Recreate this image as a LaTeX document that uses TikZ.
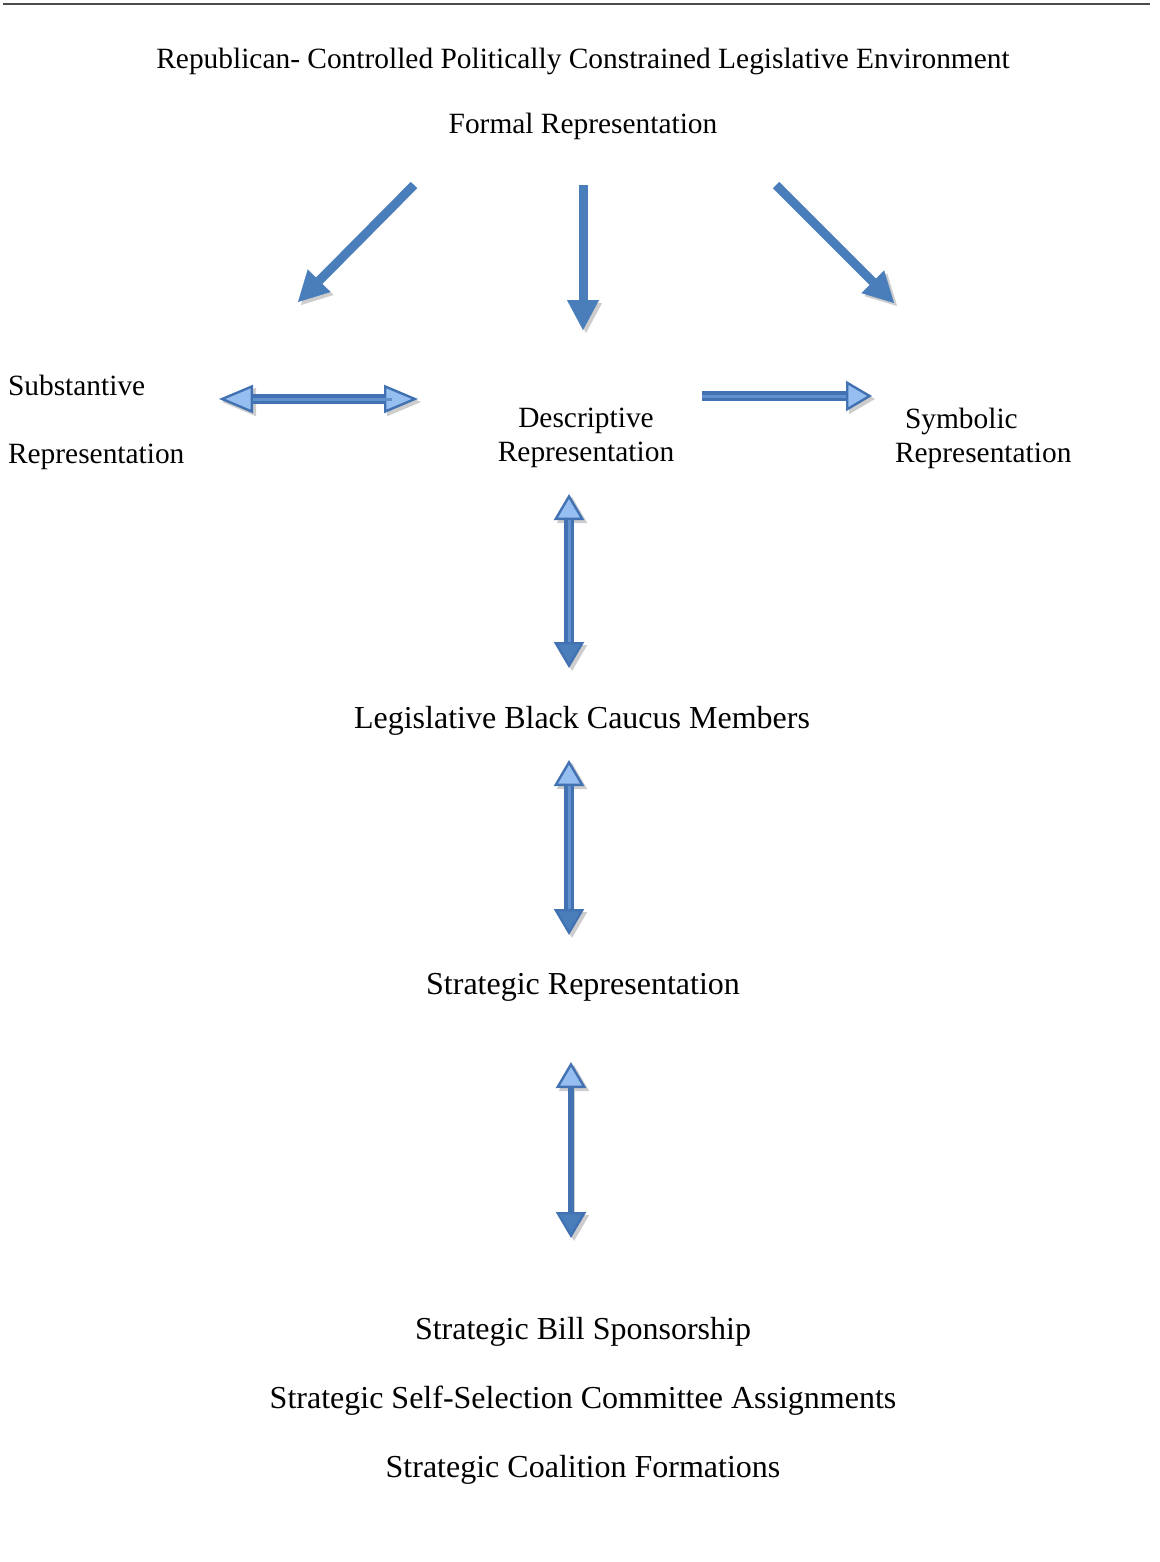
\documentclass[tikz,border=0pt]{standalone}
\usepackage{fontspec}
\setmainfont{Liberation Serif}
\usetikzlibrary{arrows.meta}

\definecolor{arrowblue}{RGB}{74,126,187}
\definecolor{rimblue}{RGB}{66,114,178}
\definecolor{stripeblue}{RGB}{98,146,206}
\definecolor{headlight}{RGB}{150,190,240}
\definecolor{shadowgray}{RGB}{205,205,205}

\tikzset{
  lite/.tip={Triangle[width=15pt,length=13pt,line width=1.2pt,fill=headlight]},
  longlite/.tip={Triangle[width=14pt,length=17pt,line width=1.2pt,fill=headlight]},
  dark/.tip={Triangle[width=15pt,length=13pt,line width=1.2pt,fill=arrowblue]},
  ghost/.tip={Triangle[width=15pt,length=13pt,line width=1.2pt,fill=shadowgray]},
  longghost/.tip={Triangle[width=14pt,length=17pt,line width=1.2pt,fill=shadowgray]},
  plaintext/.style={font=\fontsize{14.7}{17}\selectfont},
  bigtext/.style={font=\fontsize{16}{19}\selectfont},
  solidarrow/.style={draw=arrowblue, line width=4.5pt,
    -{Triangle[width=16pt,length=15pt,line width=0.1pt,fill=arrowblue]},
    preaction={draw=shadowgray, transform canvas={xshift=1.5pt,yshift=-1.5pt},
      -{Triangle[width=16pt,length=15pt,line width=0.1pt,fill=shadowgray]}}},
  rimarrow/.style={draw=rimblue, line width=5pt,
    postaction={draw=stripeblue, line width=1.5pt, arrows=-, shorten <=#1, shorten >=13pt}},
  rimarrow/.default=13pt,
  shade/.style={preaction={draw=shadowgray, transform canvas={xshift=1.5pt,yshift=-1.5pt}, arrows=#1}}
}

\begin{document}
\begin{tikzpicture}[x=0.5pt,y=-0.5pt]
  \useasboundingbox (0,0) rectangle (1160,1562);

  % Rule at the top of the page
  \draw[black!70,line width=1pt] (3,4) -- (1150,4);

  % Labels
  \node[plaintext] (env) at (583,61) {Republican- Controlled Politically Constrained Legislative Environment};
  \node[plaintext] (formal) at (583,126) {Formal Representation};
  \node[plaintext,anchor=west,align=left] (subst) at (1,422) {Substantive\\[17pt]Representation};
  \node[plaintext,align=center] (descr) at (586,438) {Descriptive\\Representation};
  \node[plaintext,anchor=west,align=left] (symb) at (888,438) {\hspace*{5pt}Symbolic\\Representation};
  \node[bigtext] (lbc) at (582,721) {Legislative Black Caucus Members};
  \node[bigtext] (strat) at (583,987) {Strategic Representation};
  \node[bigtext] (bill) at (583,1332) {Strategic Bill Sponsorship};
  \node[bigtext] (comm) at (583,1401) {Strategic Self-Selection Committee Assignments};
  \node[bigtext] (coal) at (583,1470) {Strategic Coalition Formations};

  % Arrow ends
  \coordinate (formal-sw) at (414,185);
  \coordinate (subst-ne) at (298,302);
  \coordinate (formal-s) at (583,185);
  \coordinate (descr-n) at (583,330);
  \coordinate (formal-se) at (776,185);
  \coordinate (symb-nw) at (894,303);
  \coordinate (subst-e) at (219,399);
  \coordinate (descr-w) at (418,399);
  \coordinate (descr-e) at (702,396);
  \coordinate (symb-w) at (872,396);
  \coordinate (descr-s) at (569,494);
  \coordinate (lbc-n) at (569,668);
  \coordinate (lbc-s) at (569,760);
  \coordinate (strat-n) at (569,935);
  \coordinate (strat-s) at (571,1062);
  \coordinate (bill-n) at (571,1238);

  % Arrows out of formal representation
  \draw[solidarrow] (formal-sw) -- (subst-ne);
  \draw[solidarrow] (formal-s) -- (descr-n);
  \draw[solidarrow] (formal-se) -- (symb-nw);

  % Arrows between the other kinds
  \draw[rimarrow=17pt, shade={longghost-longghost}, longlite-longlite] (subst-e) -- (descr-w);
  \draw[rimarrow=0pt, shade={-ghost}, -lite] (descr-e) -- (symb-w);
  \draw[rimarrow, shade={ghost-ghost}, lite-dark] (descr-s) -- (lbc-n);
  \draw[rimarrow, shade={ghost-ghost}, lite-dark] (lbc-s) -- (strat-n);
  \draw[rimblue, line width=3pt, shade={ghost-ghost}, lite-dark] (strat-s) -- (bill-n);

\end{tikzpicture}
\end{document}
